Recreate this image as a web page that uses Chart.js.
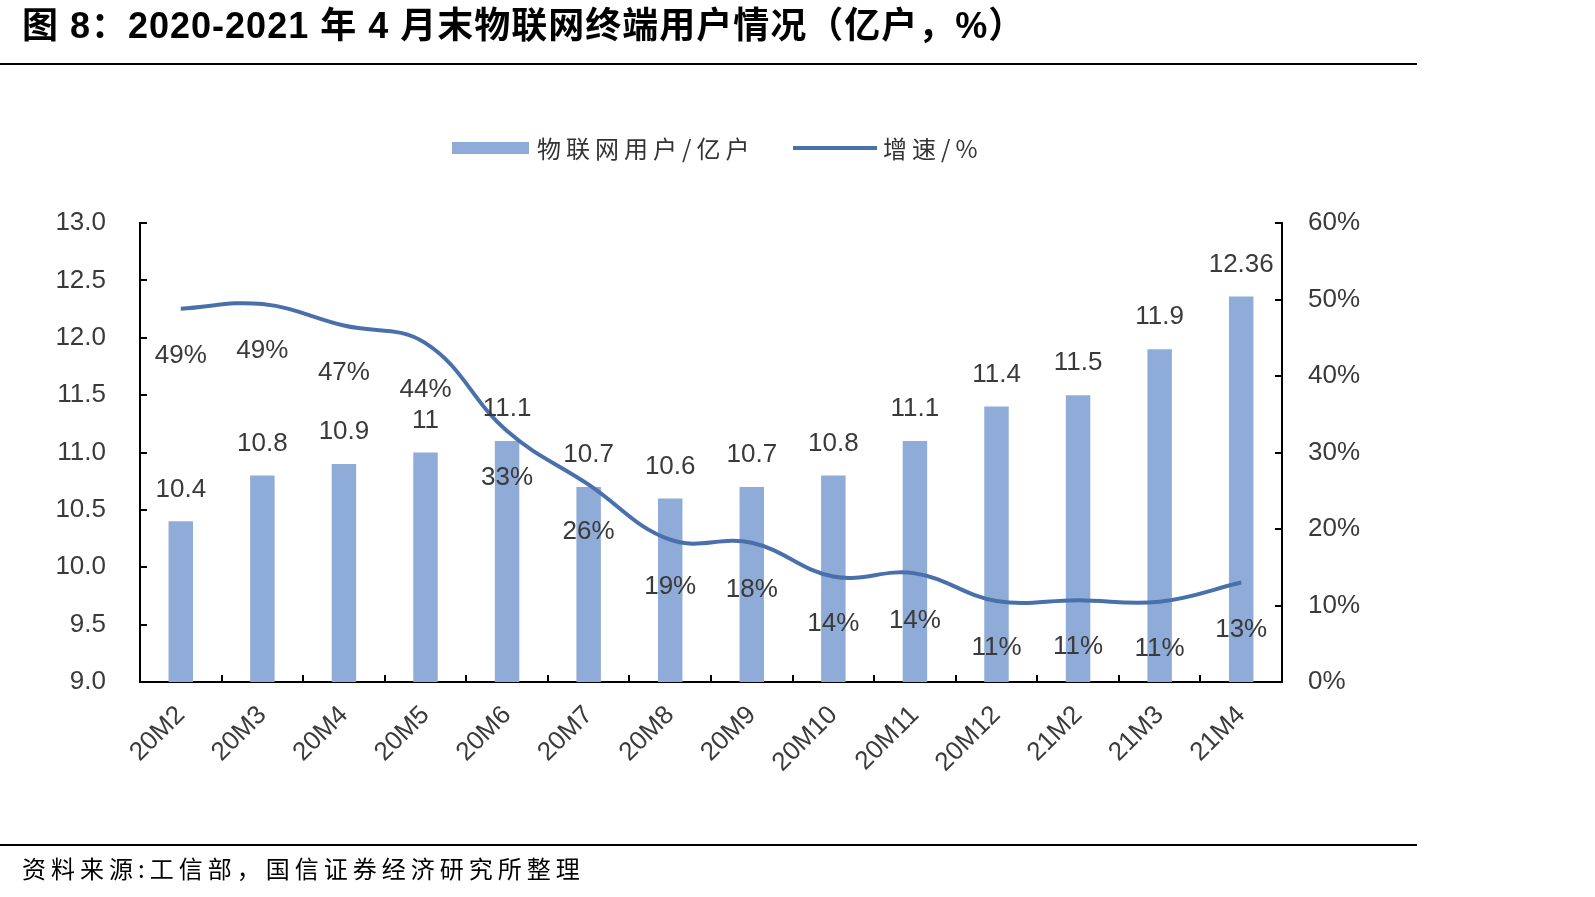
<!DOCTYPE html>
<html><head><meta charset="utf-8">
<script src="https://cdn.jsdelivr.net/npm/chart.js@4.4.1/dist/chart.umd.min.js"></script>
<style>
html,body{margin:0;padding:0;background:#fff;}
#wrap{position:relative;width:1595px;height:897px;overflow:hidden;background:#fff;}
#title{position:absolute;left:22px;top:4px;font:bold 36px 'Liberation Sans','Noto Sans CJK SC',sans-serif;letter-spacing:1px;color:#000;white-space:nowrap;line-height:44px;}
.rule{position:absolute;left:0;width:1417px;height:2px;background:#000;}
#source{position:absolute;left:22px;top:852px;font:24px 'Noto Sans CJK SC',sans-serif;letter-spacing:5px;color:#000;white-space:nowrap;line-height:32px;}
canvas{position:absolute;left:0;top:0;}
</style></head>
<body>
<div id="wrap">
  <canvas id="c" width="1595" height="897"></canvas>
  <div id="title">图 8：2020-2021 年 4 月末物联网终端用户情况（亿户，%）</div>
  <div class="rule" style="top:63px"></div>
  <div class="rule" style="top:844px"></div>
  <div id="source">资料来源:工信部，国信证券经济研究所整理</div>
</div>
<script>
const categories = ['20M2','20M3','20M4','20M5','20M6','20M7','20M8','20M9','20M10','20M11','20M12','21M2','21M3','21M4'];
const users = [10.4, 10.8, 10.9, 11, 11.1, 10.7, 10.6, 10.7, 10.8, 11.1, 11.4, 11.5, 11.9, 12.36];
const growth = [48.8, 49.4, 46.6, 44.3, 32.8, 25.8, 18.6, 18.2, 13.8, 14.2, 10.6, 10.7, 10.5, 13.0];
const leftTicks = [9.0, 9.5, 10.0, 10.5, 11.0, 11.5, 12.0, 12.5, 13.0];
const rightTicks = [0, 10, 20, 30, 40, 50, 60];
const seriesNames = ['物联网用户/亿户', '增速/%'];

const BAR_COLOR = '#8fabd8';
const LINE_COLOR = '#4a70ab';
const TEXT_COLOR = '#3a3a3a';
const LABEL_FONT = '26px "Liberation Sans", Arial, sans-serif';

const innerTicks = {
  id: 'innerTicks',
  afterDraw(chart) {
    const ctx = chart.ctx, a = chart.chartArea;
    const y = chart.scales.y, y1 = chart.scales.y1, x = chart.scales.x;
    ctx.save();
    ctx.strokeStyle = '#000';
    ctx.lineWidth = 2;
    ctx.beginPath();
    y.ticks.forEach((t, i) => { const p = Math.round(y.getPixelForTick(i)); ctx.moveTo(a.left, p); ctx.lineTo(a.left + 7, p); });
    y1.ticks.forEach((t, i) => { const p = Math.round(y1.getPixelForTick(i)); ctx.moveTo(a.right, p); ctx.lineTo(a.right - 7, p); });
    const n = categories.length;
    for (let i = 1; i < n; i++) {
      const p = Math.round((x.getPixelForValue(i - 1) + x.getPixelForValue(i)) / 2);
      ctx.moveTo(p, a.bottom); ctx.lineTo(p, a.bottom - 7);
    }
    ctx.stroke();
    ctx.restore();
  }
};

const valueLabels = {
  id: 'valueLabels',
  afterDatasetsDraw(chart) {
    const ctx = chart.ctx;
    ctx.save();
    ctx.font = LABEL_FONT;
    ctx.fillStyle = TEXT_COLOR;
    ctx.textAlign = 'center';
    ctx.textBaseline = 'middle';
    const barMeta = chart.getDatasetMeta(0);
    barMeta.data.forEach((el, i) => {
      ctx.fillText(String(users[i]), el.x, el.y - 32);
    });
    const lineMeta = chart.getDatasetMeta(1);
    lineMeta.data.forEach((el, i) => {
      ctx.fillText(Math.round(growth[i]) + '%', el.x, el.y + 47);
    });
    ctx.restore();
  }
};

const customLegend = {
  id: 'customLegend',
  afterDraw(chart) {
    const ctx = chart.ctx, ds = chart.data.datasets;
    ctx.save();
    ctx.fillStyle = ds[0].backgroundColor;
    ctx.fillRect(452, 142, 77, 12);
    ctx.strokeStyle = ds[1].borderColor;
    ctx.lineWidth = 4;
    ctx.beginPath(); ctx.moveTo(793, 148); ctx.lineTo(877, 148); ctx.stroke();
    ctx.font = '24px "Noto Sans CJK SC", sans-serif';
    try { ctx.letterSpacing = '5px'; } catch (e) {}
    ctx.fillStyle = '#333';
    ctx.textBaseline = 'middle';
    ctx.textAlign = 'left';
    ctx.fillText(ds[0].label, 537, 149);
    ctx.fillText(ds[1].label, 883, 149);
    ctx.restore();
  }
};

new Chart(document.getElementById('c'), {
  data: {
    labels: categories,
    datasets: [
      { type: 'bar', label: seriesNames[0], data: users, yAxisID: 'y', backgroundColor: BAR_COLOR,
        barPercentage: 0.3, categoryPercentage: 1.0, order: 2 },
      { type: 'line', label: seriesNames[1], data: growth, yAxisID: 'y1', borderColor: LINE_COLOR,
        borderWidth: 4, tension: 0.4, pointRadius: 0, fill: false, order: 1 }
    ]
  },
  options: {
    responsive: false,
    animation: false,
    devicePixelRatio: 1,
    layout: { padding: { top: 223, left: 0, right: 0, bottom: 0 } },
    plugins: { legend: { display: false }, tooltip: { enabled: false }, title: { display: false } },
    scales: {
      x: {
        offset: true,
        grid: { display: false, drawTicks: false },
        border: { display: true, color: '#000', width: 2 },
        ticks: { color: TEXT_COLOR, font: { family: '"Liberation Sans", Arial, sans-serif', size: 26 },
                 maxRotation: 45, minRotation: 45, padding: 18, autoSkip: false },
        afterFit: s => { s.height = 897 - 682; }
      },
      y: {
        position: 'left', min: 9, max: 13,
        afterBuildTicks: s => { s.ticks = leftTicks.map(v => ({ value: v })); },
        grid: { display: false, drawTicks: false },
        border: { display: true, color: '#000', width: 2 },
        ticks: { color: TEXT_COLOR, font: { family: '"Liberation Sans", Arial, sans-serif', size: 26 },
                 padding: 34, callback: v => Number(v).toFixed(1) },
        afterFit: s => { s.width = 140; }
      },
      y1: {
        position: 'right', min: 0, max: 60,
        afterBuildTicks: s => { s.ticks = rightTicks.map(v => ({ value: v })); },
        grid: { display: false, drawTicks: false },
        border: { display: true, color: '#000', width: 2 },
        ticks: { color: TEXT_COLOR, font: { family: '"Liberation Sans", Arial, sans-serif', size: 26 },
                 padding: 26, callback: v => v + '%' },
        afterFit: s => { s.width = 1595 - 1282; }
      }
    }
  },
  plugins: [innerTicks, valueLabels, customLegend]
});
</script>
</body></html>
